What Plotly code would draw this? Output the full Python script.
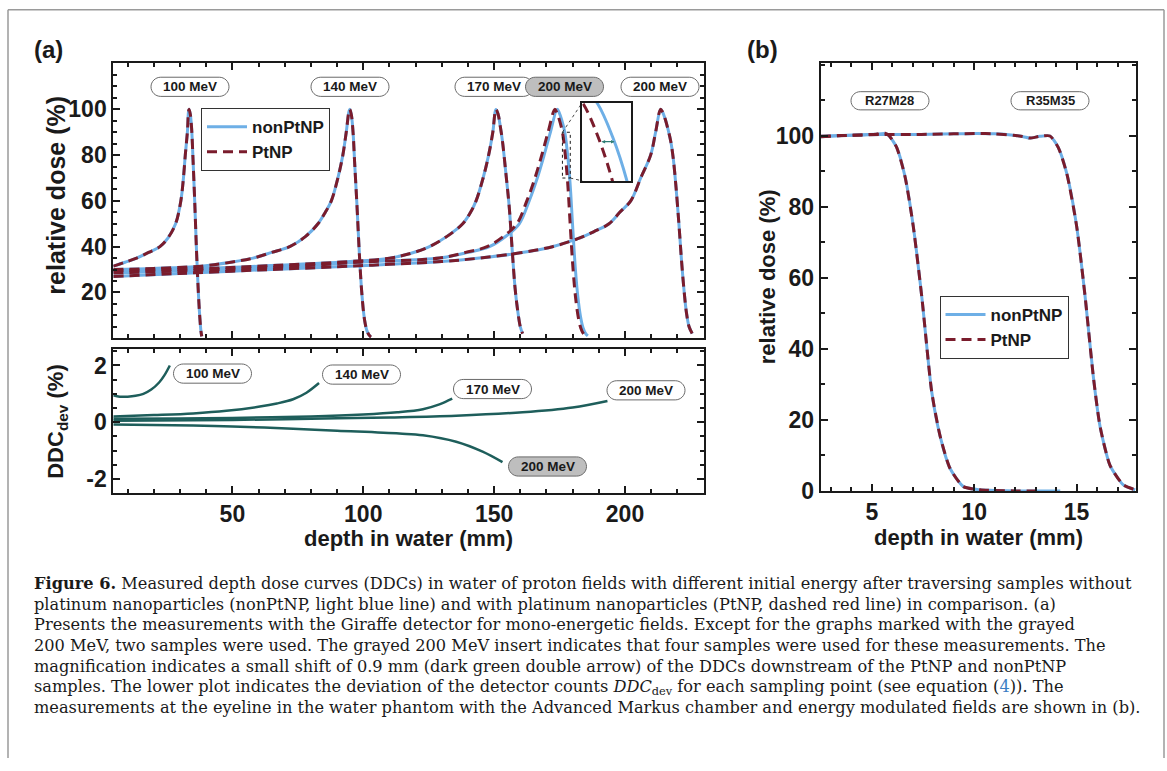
import plotly.graph_objects as go

W, H = 1167, 771

# ---------------- data: panel (a) upper, relative dose (%) ----------------
depth_100 = [4.5, 9, 13.4, 18, 22.3, 25.5, 28.3, 30.3, 31.3, 32, 32.8, 33.4, 33.9, 34.4, 35, 35.6, 36.3, 37, 37.5, 38, 38.3]
dose_100 = [31.5, 33.2, 35, 37.5, 40, 44, 50, 60, 70, 80, 90, 100, 98, 92, 77, 60, 38, 20, 10, 3, 0.8]

depth_140 = [4.5, 20, 38, 50, 57.9, 65, 71.9, 78, 82.7, 85.5, 87.8, 90.3, 92.2, 93.5, 94.8, 95.4, 96.1, 96.7, 97.6, 98.6, 99.5, 100.5, 101.5, 102.5, 103]
dose_140 = [30, 30.5, 31.5, 33.3, 35, 37.5, 40, 44.5, 50, 55, 60, 70, 80, 90, 100, 98, 90, 77, 58, 35, 19, 8, 3, 1, 0.5]

depth_170 = [4.5, 40, 70, 95, 110, 118, 125.3, 132, 138, 141, 143.1, 145.8, 147.9, 149.5, 150.7, 151.5, 152.3, 153.2, 154.5, 155.8, 157, 158, 158.9, 160, 160.9]
dose_170 = [29.5, 30.5, 32, 33.5, 35, 37, 40, 44.5, 50, 55, 60, 70, 80, 90, 100, 98, 93, 86, 72, 57, 37, 22, 13, 5, 2]

depth_200g = [4.5, 40, 70, 100, 129.1, 140, 148.2, 155, 159.6, 163.4, 166.5, 169.1, 171.5, 174.1, 174.9, 175.8, 177, 178, 179, 180, 181, 182, 183, 184, 185, 185.8]
dose_200g = [28.5, 29.8, 31.2, 33.3, 35, 37.5, 40, 45, 50, 60, 70, 80, 90, 100, 98.5, 95.5, 90, 81, 68, 49, 31, 18, 9.5, 4.5, 2, 1]
depth_200g_pt = [4.5, 40, 70, 100, 129.1, 139.1, 147.3, 154.1, 158.7, 162.5, 165.6, 168.2, 170.6, 173.2, 174.0, 174.9, 176.1, 177.1, 178.1, 179.1, 180.1, 181.1, 182.1, 183.1, 184.1, 184.9]
dose_200g_pt = [28.5, 29.8, 31.2, 33.3, 35, 37.5, 40, 45, 50, 60, 70, 80, 90, 100, 98.5, 95.5, 90, 81, 68, 49, 31, 18, 9.5, 4.5, 2, 1]

depth_200 = [4.5, 30, 60, 90, 110, 130, 144.4, 160, 172.3, 182, 188, 193.9, 198, 202.2, 206, 209.8, 211.7, 213.6, 214.3, 215.3, 216.5, 217.5, 218.5, 219.5, 220.6, 221.6, 222.5, 223.5, 224.5, 225.7]
dose_200 = [27, 28.3, 29.8, 31.2, 32.3, 33.5, 35, 37.3, 40, 43.5, 46.5, 50, 55, 60, 70, 80, 90, 100, 99, 96, 91, 86, 78, 66, 50, 34, 21.7, 11, 5, 2]

energy_labels = ["100 MeV", "140 MeV", "170 MeV", "200 MeV", "200 MeV"]

# ---------------- data: panel (a) lower, DDC_dev (%) ----------------
dev_depth_100 = [4.5, 7, 10, 13, 16, 19, 22, 24, 26.1]
dev_100 = [0.95, 0.9, 0.9, 0.93, 1.0, 1.15, 1.4, 1.65, 2.0]
dev_depth_140 = [4.5, 20, 35, 47.7, 60.5, 67, 73.2, 78.3, 83.1]
dev_140 = [0.2, 0.25, 0.31, 0.4, 0.55, 0.66, 0.81, 1.04, 1.38]
dev_depth_170 = [4.5, 30, 50, 80, 100, 113, 122.8, 129.1, 134]
dev_170 = [0.12, 0.13, 0.15, 0.2, 0.27, 0.35, 0.46, 0.63, 0.83]
dev_depth_200 = [4.5, 50, 80, 110, 135.5, 160.9, 180, 193.3]
dev_200 = [0.05, 0.08, 0.12, 0.17, 0.23, 0.35, 0.52, 0.75]
dev_depth_200g = [4.5, 35, 50, 73.2, 90, 113.8, 122.8, 135.5, 145.6, 153.2]
dev_200g = [-0.08, -0.12, -0.15, -0.23, -0.3, -0.4, -0.46, -0.69, -1.04, -1.41]

# ---------------- data: panel (b) ----------------
b_depth_r27 = [2.5, 3.5, 4.5, 5.2, 5.64, 5.85, 6.21, 6.62, 7.02, 7.45, 7.92, 8.33, 8.82, 9.47, 10.28, 11, 12, 13, 14.2]
b_dose_r27 = [99.8, 100.1, 100.3, 100.5, 100.7, 100, 96.8, 88.5, 74.6, 54, 28, 15.5, 6.3, 1.2, 0.3, 0.1, 0, 0, 0]
b_depth_r27_pt = [2.5, 3.5, 4.5, 5.2, 5.64, 5.85, 6.21, 6.62, 7.02, 7.45, 7.92, 8.33, 8.82, 9.47, 10.28, 11, 12, 13.3]
b_dose_r27_pt = [99.8, 100.1, 100.3, 100.5, 100.8, 100, 96.8, 88.5, 74.6, 54, 28, 15.5, 6.3, 1.2, 0.3, 0.1, 0, 0]
b_depth_r35 = [2.5, 4, 5.5, 7, 7.84, 9, 10.12, 11, 11.9, 12.4, 12.72, 13.2, 13.7, 14.1, 14.52, 15.0, 15.41, 15.82, 16.14, 16.63, 17.28, 17.86]
b_dose_r35 = [99.9, 100.2, 100.4, 100.4, 100.5, 100.6, 100.7, 100.6, 100.2, 99.8, 99.4, 99.9, 100, 96.8, 89.4, 74.6, 55, 32, 18.3, 7.2, 1.7, 0.3]
b_labels = ["R27M28", "R35M35"]

# ---------------- style ----------------
BLUE = "#6EAFE6"
RED = "#7A1C2C"
TEAL = "#1E5E5B"
INK = "#1a1a1a"
SANS = "Liberation Sans"
DASH = "10px,6px"

def fx(p):
    return p / W

def fy(p):
    return 1 - p / H

A_TOP = ((113.3, 703.5), (64, 344))
A_BOT = ((113.3, 703.5), (355, 501))
B_BOX = ((820.7, 1136), (64.3, 499.3))
INSET = ((582.3, 630.7), (104.3, 184))
INSET_X = [176.1, 179.1]
INSET_Y = [70, 90]

def dom(box):
    (x0, x1), (y0, y1) = box
    return [fx(x0), fx(x1)], [fy(y1), fy(y0)]

fig = go.Figure()

upper = [(depth_100, dose_100, depth_100, dose_100),
         (depth_140, dose_140, depth_140, dose_140),
         (depth_170, dose_170, depth_170, dose_170),
         (depth_200g, dose_200g, depth_200g_pt, dose_200g_pt),
         (depth_200, dose_200, depth_200, dose_200)]
for i, (xs, ys, _, _) in enumerate(upper):
    fig.add_trace(go.Scatter(x=xs, y=ys, mode="lines", name="nonPtNP", legend="legend",
                             showlegend=(i == 0), line=dict(color=BLUE, width=3, shape="spline", smoothing=1.0),
                             xaxis="x", yaxis="y"))
for i, (_, _, xs, ys) in enumerate(upper):
    fig.add_trace(go.Scatter(x=xs, y=ys, mode="lines", name="PtNP", legend="legend",
                             showlegend=(i == 0), line=dict(color=RED, width=3, dash=DASH, shape="spline", smoothing=1.0),
                             xaxis="x", yaxis="y"))

# inset (magnification of the grayed 200 MeV distal falloff)
fig.add_trace(go.Scatter(x=depth_200g, y=dose_200g, mode="lines", showlegend=False,
                         line=dict(color=BLUE, width=3, shape="spline", smoothing=1.0), xaxis="x4", yaxis="y4"))
fig.add_trace(go.Scatter(x=depth_200g_pt, y=dose_200g_pt, mode="lines", showlegend=False,
                         line=dict(color=RED, width=3, dash=DASH, shape="spline", smoothing=1.0), xaxis="x4", yaxis="y4"))

for xs, ys in [(dev_depth_100, dev_100), (dev_depth_140, dev_140), (dev_depth_170, dev_170),
               (dev_depth_200, dev_200), (dev_depth_200g, dev_200g)]:
    fig.add_trace(go.Scatter(x=xs, y=ys, mode="lines", showlegend=False,
                             line=dict(color=TEAL, width=2.5, shape="spline", smoothing=1.0), xaxis="x2", yaxis="y2"))

fig.add_trace(go.Scatter(x=b_depth_r27, y=b_dose_r27, mode="lines", name="nonPtNP", legend="legend2",
                         line=dict(color=BLUE, width=3, shape="spline", smoothing=0.6), xaxis="x3", yaxis="y3"))
fig.add_trace(go.Scatter(x=b_depth_r35, y=b_dose_r35, mode="lines", name="nonPtNP", legend="legend2", showlegend=False,
                         line=dict(color=BLUE, width=3, shape="spline", smoothing=0.6), xaxis="x3", yaxis="y3"))
fig.add_trace(go.Scatter(x=b_depth_r27_pt, y=b_dose_r27_pt, mode="lines", name="PtNP", legend="legend2",
                         line=dict(color=RED, width=3, dash=DASH, shape="spline", smoothing=0.6), xaxis="x3", yaxis="y3"))
fig.add_trace(go.Scatter(x=b_depth_r35, y=b_dose_r35, mode="lines", name="PtNP", legend="legend2", showlegend=False,
                         line=dict(color=RED, width=3, dash=DASH, shape="spline", smoothing=0.6), xaxis="x3", yaxis="y3"))

tickfont = dict(family=SANS, size=23, color=INK, weight="bold")

def axis(domain, rng, showlabels=True, **kw):
    d = dict(domain=domain, range=rng, showline=True, linewidth=2, linecolor=INK, mirror="allticks",
             ticks="inside", ticklen=7, tickwidth=2, tickcolor=INK, showgrid=False, zeroline=False,
             showticklabels=showlabels, tickfont=tickfont)
    d.update(kw)
    return d

def minor(dt):
    return dict(ticks="inside", ticklen=4, tickwidth=2, tickcolor=INK, tickmode="linear", tick0=0, dtick=dt)

xd, yd = dom(A_TOP)
xd2, yd2 = dom(A_BOT)
xd3, yd3 = dom(B_BOX)
xd4, yd4 = dom(INSET)

fig.update_layout(
    width=W, height=H, margin=dict(l=0, r=0, t=0, b=0),
    paper_bgcolor="white", plot_bgcolor="white",
    xaxis=axis(xd, [4.5, 230], False, anchor="y", tickmode="linear", tick0=0, dtick=50, minor=minor(10)),
    yaxis=axis(yd, [0, 120.3], True, anchor="x", tickmode="array", tickvals=[20, 40, 60, 80, 100], minor=minor(5)),
    xaxis2=axis(xd2, [4.5, 230], True, anchor="y2", tickmode="linear", tick0=0, dtick=50, minor=minor(10)),
    yaxis2=axis(yd2, [-2.48, 2.58], True, anchor="x2", tickmode="array", tickvals=[-2, 0, 2],
                ticktext=["-2", "0", "2"], minor=minor(0.5)),
    xaxis3=axis(xd3, [2.5, 17.9], True, anchor="y3", tickmode="array", tickvals=[5, 10, 15], minor=minor(1)),
    yaxis3=axis(yd3, [0, 120.5], True, anchor="x3", tickmode="array", tickvals=[0, 20, 40, 60, 80, 100],
                minor=minor(10)),
    xaxis4=dict(domain=xd4, range=INSET_X, anchor="y4", showline=True, linewidth=1.5, linecolor=INK,
                mirror=True, ticks="", showticklabels=False, showgrid=False, zeroline=False),
    yaxis4=dict(domain=yd4, range=INSET_Y, anchor="x4", showline=True, linewidth=1.5, linecolor=INK,
                mirror=True, ticks="", showticklabels=False, showgrid=False, zeroline=False),
    legend=dict(x=fx(201), y=fy(110), xanchor="left", yanchor="top", bgcolor="white", bordercolor="#333",
                borderwidth=1, font=dict(family=SANS, size=17, color=INK, weight="bold"), itemwidth=40,
                tracegroupgap=0),
    legend2=dict(x=fx(939.5), y=fy(301), xanchor="left", yanchor="top", bgcolor="white", bordercolor="#333",
                 borderwidth=1, font=dict(family=SANS, size=17, color=INK, weight="bold"), itemwidth=40,
                 tracegroupgap=0),
)

shapes = []
annotations = []

# figure frame
for (x0, y0, x1, y1) in [(8, 10, 1164, 10), (8, 10, 8, 771), (1164, 10, 1164, 771)]:
    shapes.append(dict(type="line", xref="paper", yref="paper", x0=fx(x0), y0=fy(y0), x1=fx(x1), y1=fy(y1),
                       line=dict(color="#9a9a9a", width=1.5)))

def pill(cx, cy, text, fill="white", w=78, h=19.5, size=13.5):
    r = h / 2
    x0, x1 = cx - w / 2, cx + w / 2
    y0, y1 = cy - h / 2, cy + h / 2
    k = 0.5523 * r
    pts = [
        f"M{fx(x0 + r)},{fy(y0)}",
        f"L{fx(x1 - r)},{fy(y0)}",
        f"C{fx(x1 - r + k)},{fy(y0)} {fx(x1)},{fy(cy - k)} {fx(x1)},{fy(cy)}",
        f"C{fx(x1)},{fy(cy + k)} {fx(x1 - r + k)},{fy(y1)} {fx(x1 - r)},{fy(y1)}",
        f"L{fx(x0 + r)},{fy(y1)}",
        f"C{fx(x0 + r - k)},{fy(y1)} {fx(x0)},{fy(cy + k)} {fx(x0)},{fy(cy)}",
        f"C{fx(x0)},{fy(cy - k)} {fx(x0 + r - k)},{fy(y0)} {fx(x0 + r)},{fy(y0)} Z",
    ]
    shapes.append(dict(type="path", xref="paper", yref="paper", path=" ".join(pts), fillcolor=fill,
                       line=dict(color="#6a6a6a", width=1), layer="above"))
    annotations.append(dict(x=fx(cx), y=fy(cy), xref="paper", yref="paper", text=text, showarrow=False,
                            font=dict(family=SANS, size=size, color=INK, weight="bold"),
                            xanchor="center", yanchor="middle"))

pill(190, 88.3, energy_labels[0])
pill(350, 88.3, energy_labels[1])
pill(494, 88.3, energy_labels[2])
pill(564.5, 88.3, energy_labels[3], fill="#BEBEBE")
pill(660, 88.3, energy_labels[4])
pill(212.5, 380, energy_labels[0])
pill(361.5, 381, energy_labels[1])
pill(492.5, 395.7, energy_labels[2])
pill(646, 397, energy_labels[4])
pill(547.5, 474.5, energy_labels[3], fill="#BEBEBE")
pill(890, 102.5, b_labels[0], h=18.5, size=13)
pill(1050, 102.5, b_labels[1], h=18.5, size=13)

# magnification rectangle + connectors
def ax_px(v):
    return 113.3 + (v - 4.5) / (230 - 4.5) * (703.5 - 113.3)

def ay_px(v):
    return 344 - v / 120.3 * (344 - 64)

rx0, rx1 = INSET_X
ry0, ry1 = INSET_Y
shapes.append(dict(type="rect", xref="x", yref="y", x0=rx0, x1=rx1, y0=ry0, y1=ry1,
                   line=dict(color=INK, width=1, dash="dot"), layer="above"))
shapes.append(dict(type="line", xref="paper", yref="paper", x0=fx(ax_px(rx0)), y0=fy(ay_px(ry1)),
                   x1=fx(INSET[0][0]), y1=fy(INSET[1][0]), line=dict(color=INK, width=0.8, dash="dot")))
shapes.append(dict(type="line", xref="paper", yref="paper", x0=fx(ax_px(rx1)), y0=fy(ay_px(ry0)),
                   x1=fx(INSET[0][0]), y1=fy(INSET[1][1]), line=dict(color=INK, width=0.8, dash="dot")))

# double arrow (0.9 mm shift) inside the inset
annotations.append(dict(x=178.1, y=80, xref="x4", yref="y4", ax=177.2, ay=80, axref="x4", ayref="y4",
                        text="", showarrow=True, arrowhead=2, startarrowhead=2, arrowside="end+start",
                        arrowsize=0.55, startarrowsize=0.55, arrowwidth=1.3, arrowcolor="#2E7D74"))

def title(x, y, text, size=22, angle=0):
    annotations.append(dict(x=fx(x), y=fy(y), xref="paper", yref="paper", text=text, showarrow=False,
                            textangle=angle, xanchor="center", yanchor="middle",
                            font=dict(family=SANS, size=size, color=INK, weight="bold")))

title(48.5, 50.5, "(a)", size=24)
title(762, 50.5, "(b)", size=24)
title(56, 199, "relative dose (%)", size=25, angle=-90)
title(57, 428, "DDC<sub>dev</sub> (%)", size=22, angle=-90)
title(408.4, 548, "depth in water (mm)", size=22)
title(767, 282, "relative dose (%)", size=22, angle=-90)
title(978.3, 547, "depth in water (mm)", size=22)

caption_lines = [
    "<b>Figure 6.</b> Measured depth dose curves (DDCs) in water of proton fields with different initial energy after traversing samples without",
    "platinum nanoparticles (nonPtNP, light blue line) and with platinum nanoparticles (PtNP, dashed red line) in comparison. (a)",
    "Presents the measurements with the Giraffe detector for mono-energetic fields. Except for the graphs marked with the grayed",
    "200 MeV, two samples were used. The grayed 200 MeV insert indicates that four samples were used for these measurements. The",
    "magnification indicates a small shift of 0.9 mm (dark green double arrow) of the DDCs downstream of the PtNP and nonPtNP",
    "samples. The lower plot indicates the deviation of the detector counts <i>DDC</i><sub>dev</sub> for each sampling point (see equation (<span style='color:#3A7EC4'>4</span>)). The",
    "measurements at the eyeline in the water phantom with the Advanced Markus chamber and energy modulated fields are shown in (b).",
]
for i, line in enumerate(caption_lines):
    annotations.append(dict(x=fx(32), y=fy(593.3 + 21.1 * i), xref="paper", yref="paper", text=line,
                            showarrow=False, xanchor="left", yanchor="middle",
                            font=dict(family="DejaVu Serif", size=16.2, color="#1a1a1a")))

fig.update_layout(shapes=shapes, annotations=annotations)
fig.write_html("out.html", config={"displayModeBar": False},
               post_script="document.body.style.margin='0px';")
